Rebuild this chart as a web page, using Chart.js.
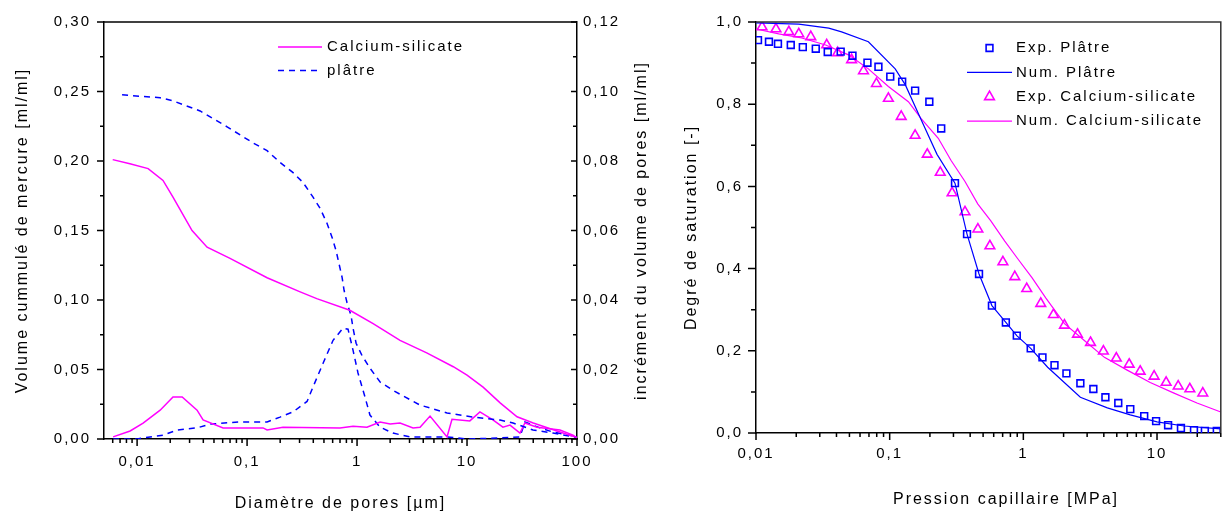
<!DOCTYPE html>
<html lang="fr">
<head>
<meta charset="utf-8">
<title>Porosimétrie et degré de saturation</title>
<script src="https://cdn.jsdelivr.net/npm/chart.js@4.4.1/dist/chart.umd.min.js"></script>
<style>
  body { margin: 0; background: #fff; }
  #wrap { position: relative; width: 1228px; height: 513px; overflow: hidden; }
  canvas { position: absolute; top: 0; }
</style>
</head>
<body>
<div id="wrap">
  <canvas id="poreChart" width="670" height="513" style="left:0;width:670px;height:513px"></canvas>
  <canvas id="satChart" width="558" height="513" style="left:670px;width:558px;height:513px"></canvas>
</div>
<script>
const MAGENTA = '#ff00ff';
const BLUE = '#0000ff';
const FONT = "'Liberation Sans', Arial, sans-serif";

// --- left chart: mercury porosimetry (diameter in µm) ---
const diamTicks = [0.01, 0.1, 1, 10, 100];

const caCumulDiam = [0.006, 0.0086, 0.0126, 0.0172, 0.0212, 0.0316, 0.0433, 0.07, 0.152, 0.30, 0.43, 0.86, 1.4, 2.46, 4.3, 7.5, 10, 14, 20, 28.5, 40, 70, 100];
const caCumulVol  = [0.201, 0.198, 0.1945, 0.186, 0.174, 0.150, 0.138, 0.130, 0.116, 0.106, 0.101, 0.0926, 0.083, 0.071, 0.062, 0.052, 0.046, 0.0373, 0.026, 0.016, 0.0115, 0.005, 0.001];

const plCumulDiam = [0.0073, 0.0162, 0.0212, 0.0374, 0.0658, 0.1135, 0.152, 0.1995, 0.262, 0.323, 0.398, 0.461, 0.534, 0.593, 0.644, 0.686, 0.731, 0.762, 0.811, 0.881, 0.920, 0.980, 1.11, 1.31, 1.62, 2.12, 3.74, 6.58, 11.3, 20, 26.2, 39.8, 60.5, 100];
const plCumulVol  = [0.2476, 0.2455, 0.2433, 0.236, 0.2246, 0.213, 0.2074, 0.199, 0.1916, 0.1845, 0.174, 0.166, 0.155, 0.145, 0.1356, 0.126, 0.1163, 0.107, 0.098, 0.089, 0.0797, 0.0689, 0.060, 0.051, 0.041, 0.035, 0.0244, 0.0187, 0.0158, 0.0136, 0.0115, 0.0065, 0.0043, 0.001];

const caIncDiam = [0.00605, 0.00864, 0.01134, 0.0162, 0.0212, 0.0257, 0.0351, 0.0398, 0.0605, 0.1397, 0.152, 0.212, 0.70, 0.92, 1.23, 1.62, 2.0, 2.46, 3.23, 3.74, 4.61, 6.58, 7.3, 10.6, 13.1, 17.2, 21.2, 24.6, 30.3, 33.6, 43.3, 70, 92, 100];
const caIncVol  = [0.0006, 0.0023, 0.0046, 0.0083, 0.0121, 0.0121, 0.0083, 0.0055, 0.0032, 0.0032, 0.0026, 0.0034, 0.0032, 0.0037, 0.0034, 0.0049, 0.0043, 0.0046, 0.0032, 0.0034, 0.0066, 0.0006, 0.0057, 0.0052, 0.0078, 0.0055, 0.0034, 0.0040, 0.0017, 0.0046, 0.0034, 0.0026, 0.0011, 0.0003];

const plIncDiam = [0.00605, 0.01, 0.0131, 0.0172, 0.0231, 0.0351, 0.0461, 0.0863, 0.152, 0.1995, 0.262, 0.351, 0.398, 0.491, 0.605, 0.746, 0.828, 0.92, 1.02, 1.18, 1.31, 1.62, 2.12, 3.03, 6.58, 10, 20, 30.3, 33.6, 46, 60.5, 92];
const plIncVol  = [0, 0, 0.0006, 0.0011, 0.0026, 0.0032, 0.0043, 0.0049, 0.0049, 0.0063, 0.0078, 0.0108, 0.015, 0.0218, 0.0284, 0.0319, 0.0316, 0.0255, 0.019, 0.0121, 0.0069, 0.0034, 0.0017, 0.0006, 0.0006, 0, 0.0003, 0.0006, 0.0049, 0.0032, 0.002, 0.0009];

// --- right chart: saturation vs capillary pressure (MPa) ---
const pressTicks = [0.01, 0.1, 1, 10];

const expPlP = [0.01035, 0.0125, 0.0146, 0.0182, 0.0224, 0.0280, 0.0344, 0.043, 0.0527, 0.0682, 0.0824, 0.101, 0.124, 0.155, 0.198, 0.243, 0.308, 0.379, 0.466, 0.582, 0.740, 0.893, 1.135, 1.39, 1.71, 2.10, 2.67, 3.34, 4.11, 5.13, 6.31, 8.02, 9.84, 12.1, 15.1, 18.9, 22.8, 28.0];
const expPlS = [0.956, 0.952, 0.947, 0.944, 0.939, 0.935, 0.927, 0.928, 0.918, 0.901, 0.891, 0.867, 0.855, 0.833, 0.806, 0.741, 0.608, 0.484, 0.387, 0.310, 0.269, 0.237, 0.206, 0.184, 0.165, 0.145, 0.121, 0.107, 0.087, 0.073, 0.058, 0.041, 0.029, 0.019, 0.012, 0.007, 0.005, 0.005];

const numPlP = [0.01, 0.0209, 0.035, 0.0437, 0.0693, 0.110, 0.131, 0.172, 0.226, 0.308, 0.379, 0.466, 0.582, 0.74, 0.893, 1.135, 1.52, 2.67, 4.25, 6.31, 10, 15.9, 30];
const numPlS = [0.998, 0.995, 0.985, 0.976, 0.952, 0.886, 0.847, 0.762, 0.678, 0.608, 0.484, 0.387, 0.310, 0.269, 0.237, 0.206, 0.160, 0.087, 0.061, 0.044, 0.027, 0.017, 0.010];

const expCaP = [0.0111, 0.0141, 0.0176, 0.0209, 0.0257, 0.0338, 0.0408, 0.0519, 0.0637, 0.0796, 0.0978, 0.122, 0.155, 0.191, 0.239, 0.293, 0.366, 0.457, 0.562, 0.703, 0.863, 1.06, 1.35, 1.68, 2.03, 2.54, 3.18, 3.97, 4.96, 6.19, 7.48, 9.51, 11.7, 14.4, 17.6, 22.0];
const expCaS = [0.988, 0.983, 0.976, 0.971, 0.964, 0.944, 0.925, 0.908, 0.881, 0.850, 0.814, 0.770, 0.724, 0.678, 0.634, 0.584, 0.538, 0.496, 0.455, 0.416, 0.380, 0.351, 0.315, 0.288, 0.262, 0.240, 0.220, 0.199, 0.182, 0.167, 0.150, 0.138, 0.123, 0.114, 0.107, 0.097];

const numCaP = [0.01, 0.0148, 0.0220, 0.0332, 0.0492, 0.0693, 0.0978, 0.138, 0.172, 0.231, 0.288, 0.366, 0.457, 0.571, 0.726, 0.908, 1.16, 1.47, 2.03, 2.86, 4.04, 5.98, 8.89, 13.4, 19.9, 30];
const numCaS = [0.983, 0.971, 0.961, 0.944, 0.920, 0.886, 0.843, 0.806, 0.765, 0.717, 0.663, 0.612, 0.557, 0.516, 0.467, 0.424, 0.378, 0.329, 0.266, 0.225, 0.184, 0.153, 0.123, 0.097, 0.073, 0.051];

const tickFont = { family: FONT, size: 15 };
const titleFont = { family: FONT, size: 16 };

function pairs(xs, ys) {
    return xs.map((x, i) => ({ x, y: ys[i] }));
}

function comma(v, digits) {
    return v.toFixed(digits).replace('.', ',');
}

function linearMarks(min, max, step) {
    const out = [];
    for (let v = min; v <= max + step / 1000; v += step) out.push(+v.toFixed(6));
    return out;
}

function logMinorMarks(min, max) {
    const out = [];
    for (let e = Math.floor(Math.log10(min)); e <= Math.ceil(Math.log10(max)); e++) {
        for (let m = 2; m <= 9; m++) {
            const v = m * Math.pow(10, e);
            if (v > min * 1.001 && v <= max * 1.001) out.push(v);
        }
    }
    return out;
}

// frame, minor/major tick marks, extra titles and the in-plot legend
const axisDecor = {
    id: 'axisDecor',
    beforeDraw(chart) {
        chart.ctx.letterSpacing = '2px';
    },
    afterDraw(chart, args, opts) {
        const { ctx, chartArea: area } = chart;
        ctx.save();
        ctx.lineWidth = 1.5;
        ctx.strokeStyle = opts.frameColor;
        ctx.beginPath();
        ctx.moveTo(area.left, area.top);
        ctx.lineTo(area.right, area.top);
        if (opts.rightFrame) ctx.lineTo(area.right, area.bottom);
        ctx.stroke();

        ctx.strokeStyle = '#000';
        opts.marks.forEach(m => {
            const scale = chart.scales[m.scale];
            ctx.beginPath();
            m.values.forEach(v => {
                const p = scale.getPixelForValue(v);
                if (scale.isHorizontal()) {
                    ctx.moveTo(p, scale.top);
                    ctx.lineTo(p, scale.top + m.len);
                } else {
                    const x0 = scale.position === 'left' ? scale.right : scale.left;
                    ctx.moveTo(x0, p);
                    ctx.lineTo(x0 + m.len, p);
                }
            });
            ctx.stroke();
        });

        ctx.fillStyle = '#000';
        ctx.textAlign = 'center';
        ctx.textBaseline = 'middle';
        (opts.titles || []).forEach(t => {
            ctx.save();
            ctx.font = `${titleFont.size}px ${FONT}`;
            ctx.translate(t.x, t.y === 'mid' ? (area.top + area.bottom) / 2 : t.y);
            ctx.rotate(t.rotate || 0);
            ctx.fillText(t.text, 0, 0);
            ctx.restore();
        });

        const lg = opts.legend;
        ctx.font = `${tickFont.size}px ${FONT}`;
        lg.items.forEach((dsIndex, i) => {
            const ds = chart.data.datasets[dsIndex];
            const y = lg.y + i * lg.rowHeight;
            ctx.strokeStyle = ds.borderColor;
            if (ds.showLine) {
                ctx.lineWidth = ds.borderWidth;
                ctx.setLineDash(ds.borderDash || []);
                ctx.beginPath();
                ctx.moveTo(lg.x0, y);
                ctx.lineTo(lg.x1, y);
                ctx.stroke();
                ctx.setLineDash([]);
            } else {
                ctx.fillStyle = 'rgba(0,0,0,0)';
                ctx.lineWidth = ds.pointBorderWidth;
                Chart.helpers.drawPoint(ctx, { pointStyle: ds.pointStyle, radius: ds.pointRadius, borderWidth: ds.pointBorderWidth, rotation: 0 }, (lg.x0 + lg.x1) / 2, y);
            }
            ctx.fillStyle = '#000';
            ctx.textAlign = 'left';
            ctx.fillText(ds.label, lg.textX, y);
        });
        ctx.restore();
    }
};

function axisStyle(extra) {
    return Object.assign({
        grid: { display: false, drawTicks: false },
        border: { display: true, color: '#000', width: 1.5 }
    }, extra);
}

new Chart(document.getElementById('poreChart'), {
    type: 'scatter',
    data: {
        datasets: [
            { label: 'Calcium-silicate', data: pairs(caCumulDiam, caCumulVol), yAxisID: 'y', showLine: true, borderColor: MAGENTA, borderWidth: 1.5, pointRadius: 0 },
            { label: 'plâtre', data: pairs(plCumulDiam, plCumulVol), yAxisID: 'y', showLine: true, borderColor: BLUE, borderWidth: 1.5, borderDash: [6, 5], pointRadius: 0 },
            { label: 'Calcium-silicate (incr.)', data: pairs(caIncDiam, caIncVol), yAxisID: 'y2', showLine: true, borderColor: MAGENTA, borderWidth: 1.5, pointRadius: 0 },
            { label: 'plâtre (incr.)', data: pairs(plIncDiam, plIncVol), yAxisID: 'y2', showLine: true, borderColor: BLUE, borderWidth: 1.5, borderDash: [6, 5], pointRadius: 0 }
        ]
    },
    options: {
        responsive: false,
        animation: false,
        devicePixelRatio: 1,
        layout: { padding: { top: 21, left: 0, right: 0, bottom: 0 } },
        scales: {
            x: axisStyle({
                type: 'logarithmic', min: 0.005, max: 100,
                afterBuildTicks: s => { s.ticks = diamTicks.map(v => ({ value: v })); },
                afterFit: s => { s.height = 74; },
                ticks: { autoSkip: false, maxRotation: 0, padding: 14, color: '#000', font: tickFont, callback: v => String(v).replace('.', ',') },
                title: { display: true, text: 'Diamètre de pores [µm]', color: '#000', font: titleFont, padding: { top: 0, bottom: 0 } }
            }),
            y: axisStyle({
                position: 'left', min: 0, max: 0.3,
                afterFit: s => { s.width = 104; },
                ticks: { stepSize: 0.05, padding: 13, color: '#000', font: tickFont, callback: v => comma(v, 2) },
                title: { display: true, text: 'Volume cummulé de mercure [ml/ml]', color: '#000', font: titleFont, padding: { top: 13, bottom: 0 } }
            }),
            y2: axisStyle({
                position: 'right', min: 0, max: 0.12,
                afterFit: s => { s.width = 93; },
                ticks: { stepSize: 0.02, padding: 6, color: '#000', font: tickFont, callback: v => comma(v, 2) }
            })
        },
        plugins: {
            legend: { display: false },
            tooltip: { enabled: false },
            axisDecor: {
                frameColor: '#000',
                rightFrame: false,
                marks: [
                    { scale: 'x', values: diamTicks, len: 7 },
                    { scale: 'x', values: logMinorMarks(0.005, 100), len: 4 },
                    { scale: 'y', values: linearMarks(0, 0.3, 0.05), len: -7 },
                    { scale: 'y', values: linearMarks(0.025, 0.3, 0.05), len: -4 },
                    { scale: 'y2', values: linearMarks(0, 0.12, 0.02), len: -6 },
                    { scale: 'y2', values: linearMarks(0.01, 0.12, 0.02), len: -4 }
                ],
                titles: [
                    { text: 'incrément du volume de pores [ml/ml]', x: 642, y: 'mid', rotate: -Math.PI / 2 }
                ],
                legend: { items: [0, 1], x0: 278, x1: 322, textX: 327, y: 47, rowHeight: 23.5 }
            }
        }
    },
    plugins: [axisDecor]
});

new Chart(document.getElementById('satChart'), {
    type: 'scatter',
    data: {
        datasets: [
            { label: 'Exp. Plâtre', data: pairs(expPlP, expPlS), showLine: false, borderColor: BLUE, pointStyle: 'rect', pointRadius: 4.8, pointBorderWidth: 1.6, pointBorderColor: BLUE, pointBackgroundColor: 'rgba(0,0,0,0)' },
            { label: 'Num. Plâtre', data: pairs(numPlP, numPlS), showLine: true, borderColor: BLUE, borderWidth: 1.2, pointRadius: 0 },
            { label: 'Exp. Calcium-silicate', data: pairs(expCaP, expCaS), showLine: false, borderColor: MAGENTA, pointStyle: 'triangle', pointRadius: 5.6, pointBorderWidth: 1.6, pointBorderColor: MAGENTA, pointBackgroundColor: 'rgba(0,0,0,0)' },
            { label: 'Num. Calcium-silicate', data: pairs(numCaP, numCaS), showLine: true, borderColor: MAGENTA, borderWidth: 1.2, pointRadius: 0 }
        ]
    },
    options: {
        responsive: false,
        animation: false,
        devicePixelRatio: 1,
        layout: { padding: { top: 20, left: 0, right: 5, bottom: 0 } },
        scales: {
            x: axisStyle({
                type: 'logarithmic', min: 0.01, max: 30,
                afterBuildTicks: s => { s.ticks = pressTicks.map(v => ({ value: v })); },
                afterFit: s => { s.height = 80; },
                ticks: { autoSkip: false, maxRotation: 0, padding: 12, color: '#000', font: tickFont, callback: v => String(v).replace('.', ',') }
            }),
            y: axisStyle({
                position: 'left', min: 0, max: 1,
                afterFit: s => { s.width = 86; },
                ticks: { stepSize: 0.2, padding: 13, color: '#000', font: tickFont, callback: v => comma(v, 1) },
                title: { display: true, text: 'Degré de saturation [-]', color: '#000', font: titleFont, padding: { top: 12, bottom: 0 } }
            })
        },
        plugins: {
            legend: { display: false },
            tooltip: { enabled: false },
            axisDecor: {
                frameColor: '#333',
                rightFrame: true,
                marks: [
                    { scale: 'x', values: pressTicks, len: 7 },
                    { scale: 'x', values: logMinorMarks(0.01, 30), len: 4 },
                    { scale: 'y', values: linearMarks(0, 1, 0.2), len: -8 },
                    { scale: 'y', values: linearMarks(0.1, 1, 0.2), len: -5 }
                ],
                titles: [
                    { text: 'Pression capillaire [MPa]', x: 336, y: 500 }
                ],
                legend: { items: [0, 1, 2, 3], x0: 297, x1: 342, textX: 346, y: 48, rowHeight: 24.4 }
            }
        }
    },
    plugins: [axisDecor]
});
</script>
</body>
</html>
